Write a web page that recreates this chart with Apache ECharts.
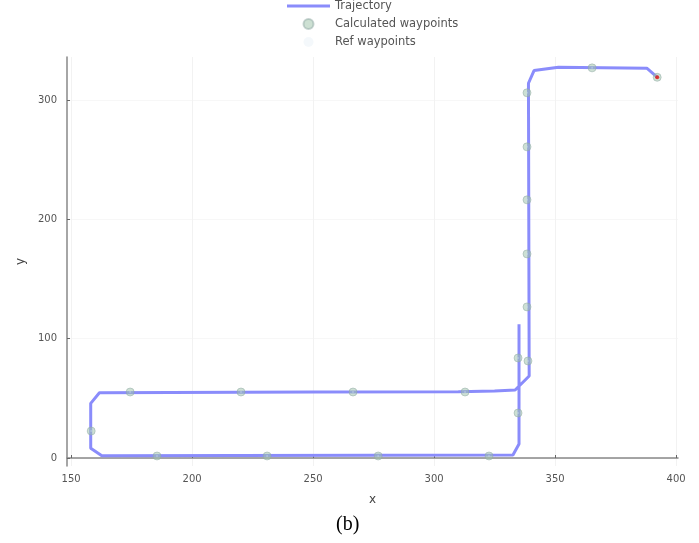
<!DOCTYPE html>
<html>
<head>
<meta charset="utf-8">
<script src="https://cdn.jsdelivr.net/npm/echarts@6/dist/echarts.min.js"></script>
<style>
  html, body { margin: 0; padding: 0; background: #fff; }
  #chart { width: 699px; height: 543px; }
</style>
</head>
<body>
<div id="chart"></div>
<script>
// trajectory path (x, y)
const trajX = [335.1, 335.1, 332.6, 162.7, 158.1, 158.1, 161.7, 250, 310, 325, 333.5, 339.3, 339.0, 341.3, 351.4, 387.9, 392.3];
const trajY = [112, 11.7, 2.5, 1.8, 8.1, 45.8, 54.7, 55.2, 55.6, 56.2, 57, 68.7, 314, 324.6, 327.5, 326.6, 319];

// calculated waypoints
const wpX = [365.3, 338.4, 338.4, 338.4, 338.4, 338.4, 334.7, 338.8, 334.7, 158.3, 174.4, 220.2, 266.5, 312.8, 185.5, 231.0, 276.9, 322.7, 392.2];
const wpY = [326.9, 306, 260.7, 216.3, 171, 126.6, 83.8, 81.3, 37.7, 22.6, 55.3, 55.3, 55.3, 55.3, 1.7, 1.7, 1.7, 1.7, 319];

// ref waypoints (tiny dots), goal point
const refX = wpX.slice(0, 18);
const refY = wpY.slice(0, 18);
const goal = [392.2, 319];

const xTicks = [150, 200, 250, 300, 350, 400];
const yTicks = [0, 100, 200, 300];

const zip = (a, b) => a.map((v, i) => [v, b[i]]);

const myChart = echarts.init(document.getElementById('chart'));
const axisCol = '#888';
const labelCol = '#555';

myChart.setOption({
  animation: false,
  legend: {
    orient: 'vertical',
    left: 282,
    top: -5,
    itemWidth: 43,
    itemHeight: 10,
    itemGap: 6,
    data: [
      { name: 'Trajectory', icon: 'path://M0,0L43,0L43,3L0,3Z' },
      { name: 'Calculated waypoints', icon: 'circle' },
      { name: 'Ref waypoints', icon: 'circle', itemStyle: { color: 'rgba(215,230,240,0.35)' } }
    ],
    textStyle: { color: '#555', fontSize: 11.5, fontFamily: 'DejaVu Sans' }
  },
  grid: { left: 67, right: 21, top: 57, bottom: 77 },
  xAxis: {
    type: 'value',
    min: 148.3,
    max: 400.8,
    name: 'x',
    nameLocation: 'middle',
    nameGap: 28,
    nameTextStyle: { color: '#444', fontSize: 12, fontFamily: 'DejaVu Sans' },
    axisLine: { lineStyle: { color: axisCol, width: 1.5 } },
    axisTick: { inside: true, length: 3, customValues: xTicks, lineStyle: { color: '#666' } },
    axisLabel: { customValues: xTicks, color: labelCol, fontSize: 10, margin: 8, fontFamily: 'DejaVu Sans' },
    splitLine: { show: true, lineStyle: { color: '#f2f2f2', width: 1 } }
  },
  yAxis: {
    type: 'value',
    min: -6.7,
    max: 336,
    name: 'y',
    nameLocation: 'middle',
    nameGap: 38,
    nameTextStyle: { color: '#444', fontSize: 12, fontFamily: 'DejaVu Sans' },
    axisLine: { show: true, lineStyle: { color: axisCol, width: 1.5 } },
    axisTick: { show: true, inside: true, length: 3, customValues: yTicks, lineStyle: { color: '#666' } },
    axisLabel: { customValues: yTicks, color: labelCol, fontSize: 10, margin: 10, fontFamily: 'DejaVu Sans' },
    splitLine: { show: true, lineStyle: { color: '#f7f7f7', width: 1 } }
  },
  series: [
    {
      name: 'Trajectory',
      type: 'line',
      data: zip(trajX, trajY),
      showSymbol: false,
      symbol: 'none',
      lineStyle: { color: '#8a8cfb', width: 3 },
      itemStyle: { color: '#8a8cfb' },
      z: 2
    },
    {
      name: 'Calculated waypoints',
      type: 'scatter',
      data: zip(wpX, wpY),
      symbolSize: 8,
      itemStyle: { color: 'rgba(160,195,170,0.65)', borderColor: 'rgba(140,165,160,0.6)', borderWidth: 1 },
      z: 3
    },
    {
      name: 'Ref waypoints',
      type: 'scatter',
      data: zip(refX, refY),
      symbolSize: 2,
      itemStyle: { color: 'rgba(200,220,235,0.6)' },
      z: 4
    },
    {
      name: 'Goal',
      type: 'scatter',
      data: [goal],
      symbolSize: 4,
      itemStyle: { color: '#e01010' },
      z: 5
    }
  ],
  graphic: [
    {
      type: 'text',
      left: 336,
      top: 515,
      style: { text: '(b)', fill: '#000', font: '20px "Liberation Serif"' }
    }
  ]
});
</script>
</body>
</html>
